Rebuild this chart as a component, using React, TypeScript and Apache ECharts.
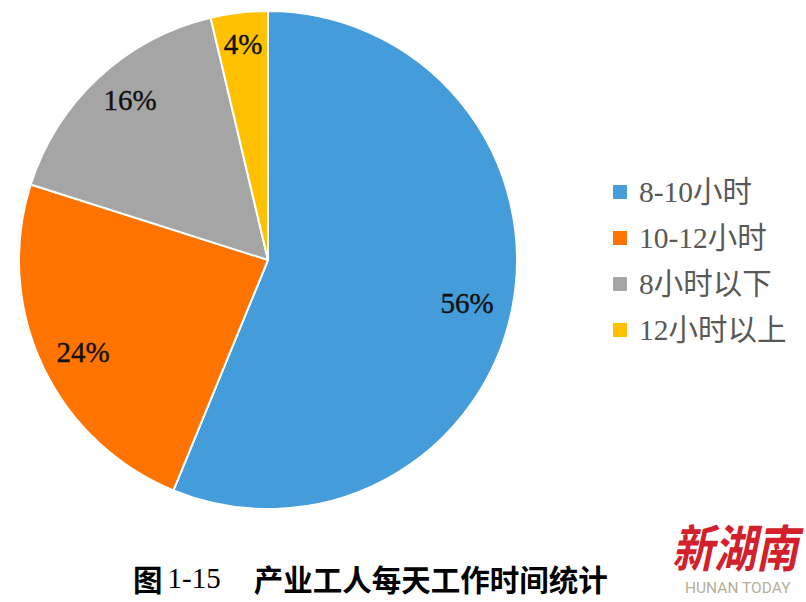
import React, { useEffect, useRef } from "react";
import * as echarts from "echarts";

const categories = ["8-10小时", "10-12小时", "8小时以下", "12小时以上"];
const values = [56.2, 23.7, 16.4, 3.7];
const colors = ["#449CDB", "#FF7300", "#A5A5A5", "#FFC000"];
const SERIF = '"Liberation Serif", "Noto Sans CJK SC", serif';
const SANS_CJK = '"Noto Sans CJK SC", sans-serif';
const RADIUS = 249;

export default function App() {
  const ref = useRef<HTMLDivElement>(null);
  useEffect(() => {
    document.body.style.margin = "0";
    document.body.style.background = "#fff";
    const chart = echarts.init(ref.current!, null, { renderer: "svg" });
    const labelCentres = [
      [467, 303],
      [83, 352],
      [130, 100],
      [243, 44],
    ];
    chart.setOption({
      animation: false,
      backgroundColor: "#ffffff",
      color: colors,
      title: {
        left: 133,
        top: 563,
        padding: 0,
        text: "{cjk|图} {num|1-15}{gap| }{cjk|产业工人每天工作时间统计}",
        textStyle: {
          rich: {
            cjk: { fontFamily: SANS_CJK, fontWeight: "bold", fontSize: 29.5, color: "#000" },
            num: { fontFamily: SERIF, fontWeight: "normal", fontSize: 29, color: "#000" },
            gap: { width: 33, fontSize: 29 },
          },
        },
      },
      legend: {
        orient: "vertical",
        left: 611,
        top: 176,
        padding: 0,
        itemWidth: 16,
        itemHeight: 16,
        itemGap: 14,
        icon: "rect",
        selectedMode: false,
        data: categories,
        textStyle: { fontFamily: SERIF, fontSize: 29.5, color: "#595959", padding: [0, 0, 0, 6], lineHeight: 32 },
      },
      series: [
        {
          type: "pie",
          center: [268, 260],
          radius: [0, RADIUS],
          startAngle: 90,
          clockwise: true,
          avoidLabelOverlap: false,
          data: categories.map((name, i) => ({ name, value: values[i] })),
          itemStyle: { borderColor: "#ffffff", borderWidth: 2 },
          label: {
            position: "inside",
            formatter: (p: any) => `${Math.round(p.value)}%`,
            fontFamily: SERIF,
            fontSize: 29,
            color: "#111111",
            textBorderColor: "#111111",
            textBorderWidth: 0.4,
          },
          labelLine: { show: false },
          labelLayout: (p: any) => {
            const c = labelCentres[p.dataIndex];
            return { x: c[0], y: c[1], align: "center", verticalAlign: "middle" };
          },
          emphasis: { disabled: true },
        },
      ],
      graphic: [
        {
          type: "text",
          x: 672,
          y: 520,
          scaleY: 1.2,
          style: {
            text: "新湖南",
            fontFamily: SANS_CJK,
            fontWeight: "bold",
            fontStyle: "italic",
            fontSize: 42,
            fill: "#D2202C",
          },
        },
        {
          type: "text",
          x: 685,
          y: 580,
          style: {
            text: "HUNAN TODAY",
            fontFamily: '"Roboto", sans-serif',
            fontSize: 15.5,
            fill: "#B5AE9C",
          },
        },
      ],
    });
    return () => chart.dispose();
  }, []);
  return <div ref={ref} style={{ width: 806, height: 602 }} />;
}
